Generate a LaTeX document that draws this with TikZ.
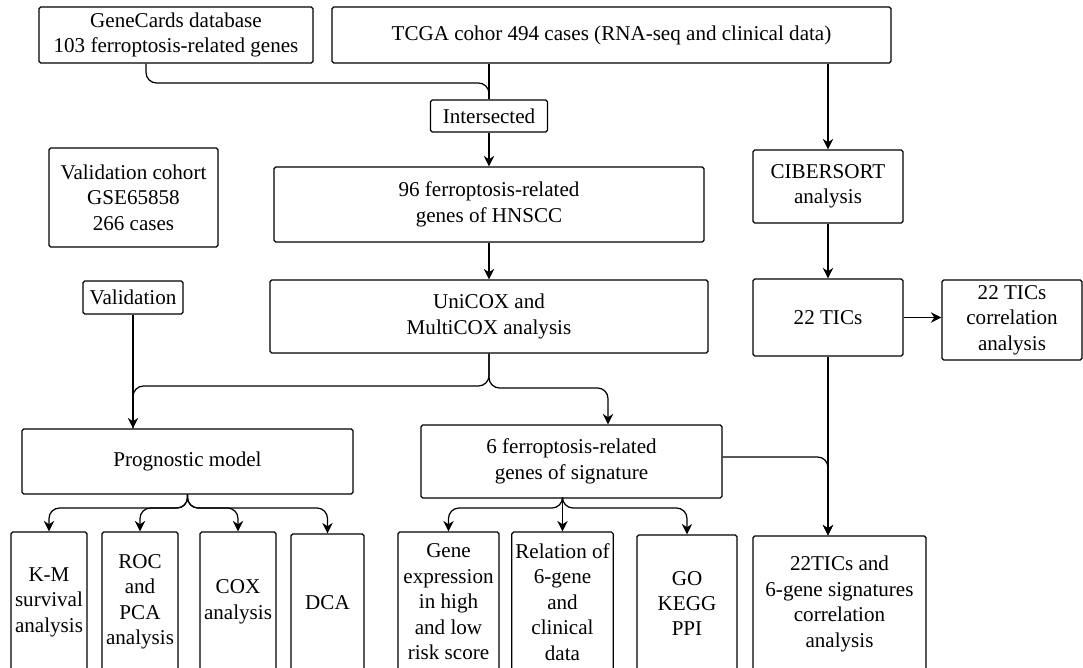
\documentclass[tikz,border=0pt]{standalone}
\usepackage{fontspec}
\setmainfont{Liberation Serif}
\usepackage{tikz}
\usetikzlibrary{arrows.meta}

\tikzset{
  box/.style={draw, rounded corners=1pt, align=center, inner sep=2pt, line width=0.7pt},
  arr/.style={-{Stealth[length=6pt,width=6pt]}, line width=0.7pt},
  link/.style={line width=0.7pt, rounded corners=6pt}
}

\begin{document}
\begin{tikzpicture}[x=0.02cm, y=-0.02cm, font=\fontsize{12}{14.5}\selectfont]
\useasboundingbox (0,0) rectangle (1083,667);

% Top row
\node[box, minimum width=5.48cm, minimum height=1.12cm] (gene) at (176,35) {GeneCards database\\103 ferroptosis-related genes};
\node[box, minimum width=11.18cm, minimum height=1.12cm] (tcga) at (611.5,35) {TCGA cohor 494 cases (RNA-seq and clinical data)};
\node[box, minimum width=2.34cm, minimum height=0.64cm] (inter) at (489,116) {Intersected};

% Middle part
\node[box, minimum width=3.38cm, minimum height=1.98cm] (valcoh) at (133.5,197.5) {Validation cohort\\GSE65858\\266 cases};
\node[box, minimum width=8.6cm, minimum height=1.5cm] (ferro96) at (489,204.5) {96 ferroptosis-related\\genes of HNSCC};
\node[box, minimum width=3.0cm, minimum height=1.46cm] (cib) at (828,186.5) {CIBERSORT\\analysis};
\node[box, minimum width=2.0cm, minimum height=0.66cm] (valid) at (133,297.5) {Validation};
\node[box, minimum width=8.76cm, minimum height=1.46cm] (unicox) at (489,316.5) {UniCOX and\\MultiCOX analysis};
\node[box, minimum width=3.0cm, minimum height=1.54cm] (tics) at (828,317.5) {22 TICs};
\node[box, minimum width=2.8cm, minimum height=1.6cm] (ticscor) at (1012,320) {22 TICs\\correlation\\analysis};

% Second level
\node[box, minimum width=6.62cm, minimum height=1.3cm] (prog) at (187.5,461.5) {Prognostic model};
\node[box, minimum width=6.02cm, minimum height=1.46cm] (ferro6) at (571.5,461.5) {6 ferroptosis-related\\genes of signature};

% Bottom row (cut off at the lower edge)
\node[box, minimum width=1.52cm, minimum height=2.8cm] (km) at (49,602) {K-M\\survival\\analysis};
\node[box, minimum width=1.52cm, minimum height=2.8cm] (roc) at (140,602) {ROC\\and\\PCA\\analysis};
\node[box, minimum width=1.52cm, minimum height=2.8cm] (cox) at (238,602) {COX\\analysis};
\node[box, minimum width=1.46cm, minimum height=2.76cm] (dca) at (327.5,603) {DCA};
\node[box, minimum width=2.02cm, minimum height=2.8cm] (gexp) at (448.5,602) {Gene\\expression\\in high\\and low\\risk score};
\node[box, minimum width=2.02cm, minimum height=2.8cm] (rel) at (562.5,602) {Relation of\\6-gene\\and\\clinical\\data};
\node[box, minimum width=2.0cm, minimum height=2.74cm] (gokegg) at (687,603.5) {GO\\KEGG\\PPI};
\node[box, minimum width=3.46cm, minimum height=2.72cm] (corr) at (839.5,604) {22TICs and\\6-gene signatures\\correlation\\analysis};

% Connectors at the top
\draw[link] ([xshift=-0.6cm]gene.south) |- (inter.north |- 0,83) -- (inter.north);
\draw[link] (inter.north |- tcga.south) -- (inter.north);
\draw[arr] (inter.south) -- (ferro96.north);
\draw[arr] (cib.north |- tcga.south) -- (cib.north);
\draw[arr] (cib.south) -- (tics.north);
\draw[arr] (tics.east) -- (tics.east -| ticscor.west);
\draw[arr] (ferro96.south) -- (unicox.north);

% Split below UniCOX
\draw[link] (unicox.south) -- (unicox.south |- 0,386) -| (valid.south |- prog.north);
\draw[arr] (valid.south) -- (valid.south |- prog.north);
\draw[arr, link] (unicox.south) -- (unicox.south |- 0,388) -| (608,0 |- ferro6.north);

% Split below the prognostic model
\foreach \n in {km,roc,cox,dca}
  \draw[arr, link] (prog.south) -- (prog.south |- 0,508) -| (\n.north);

% Split below the signature
\draw[arr] (rel.north |- ferro6.south) -- (rel.north);
\foreach \n in {gexp,gokegg}
  \draw[arr, link] (rel.north |- ferro6.south) -- (rel.north |- 0,508) -| (\n.north);

% Into the correlation box
\draw[arr] (tics.south) -- (tics.south |- corr.north);
\draw[arr, link] (ferro6.east |- 0,457) -| (tics.south |- corr.north);
\end{tikzpicture}
\end{document}
